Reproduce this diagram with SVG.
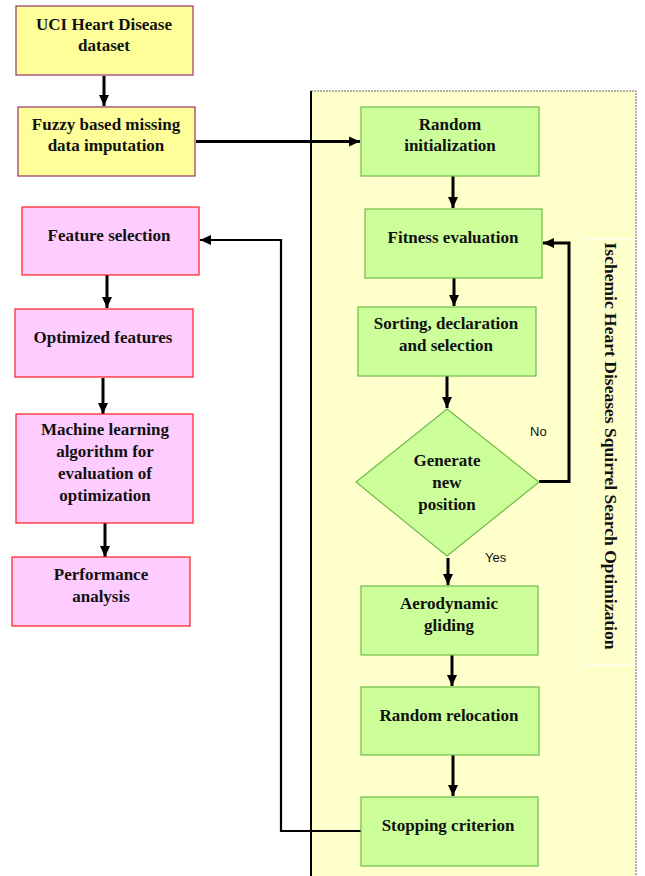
<svg xmlns="http://www.w3.org/2000/svg" width="645" height="876" viewBox="0 0 645 876">
<defs>
<marker id="ah" markerUnits="userSpaceOnUse" markerWidth="12" markerHeight="12" viewBox="0 0 12 12" refX="11" refY="6" orient="auto">
<path d="M0,1 L11,6 L0,11 Z" fill="#000"/>
</marker>
<style>
.t{font-family:"Liberation Serif","Times New Roman",serif;font-weight:bold;font-size:17px;fill:#111;text-anchor:middle}
.s{font-family:"Liberation Sans",Arial,sans-serif;font-size:13px;fill:#111}
.y{fill:#FFFF99;stroke:#993366;stroke-width:1.2}
.g{fill:#CCFF99;stroke:#6DBB4A;stroke-width:1.2}
.p{fill:#FFCCFF;stroke:#FF1A1A;stroke-width:1.2}
.c{fill:none;stroke:#000;stroke-width:3}
.f{fill:none;stroke:#000;stroke-width:2.2}
</style>
</defs>
<rect width="645" height="876" fill="#fff"/>
<g id="container">
<rect x="311" y="91" width="325" height="790" fill="#FFFFCC"/>
<path d="M311,91 H636 V876" fill="none" stroke="#666" stroke-width="1" stroke-dasharray="2,1"/>
<line x1="311" y1="91" x2="311" y2="876" stroke="#000" stroke-width="2"/>
<rect x="587" y="239" width="46" height="426" fill="none" stroke="#fff" stroke-width="1"/>
<text class="t" transform="translate(605,446) rotate(90)" textLength="407" lengthAdjust="spacingAndGlyphs">Ischemic Heart Diseases Squirrel Search Optimization</text>
</g>
<g id="connectors">
<line class="c" x1="104" y1="76" x2="104" y2="106" marker-end="url(#ah)"/>
<line class="c" x1="196" y1="141.5" x2="360" y2="141.5" marker-end="url(#ah)"/>
<line class="c" x1="453" y1="176" x2="453" y2="208" marker-end="url(#ah)"/>
<line class="c" x1="454" y1="278" x2="454" y2="306" marker-end="url(#ah)"/>
<line class="c" x1="447" y1="376" x2="447" y2="408" marker-end="url(#ah)"/>
<path class="c" d="M539,481.5 H569 V243 H543" marker-end="url(#ah)"/>
<line class="c" x1="448" y1="558" x2="448" y2="585" marker-end="url(#ah)"/>
<line class="c" x1="452" y1="655" x2="452" y2="686" marker-end="url(#ah)"/>
<line class="c" x1="453" y1="755" x2="453" y2="796" marker-end="url(#ah)"/>
<path class="f" d="M366,831 H281 V240 H200" marker-end="url(#ah)"/>
<line class="c" x1="107" y1="275" x2="107" y2="308" marker-end="url(#ah)"/>
<line class="c" x1="103" y1="378" x2="103" y2="414" marker-end="url(#ah)"/>
<line class="c" x1="105" y1="523" x2="105" y2="557" marker-end="url(#ah)"/>
<text class="s" x="530" y="436">No</text>
<text class="s" x="485" y="562">Yes</text>
</g>
<g id="uci">
<rect class="y" x="16" y="6" width="177" height="69"/>
<text class="t" x="104" y="30">UCI Heart Disease</text>
<text class="t" x="104" y="51">dataset</text>
</g>
<g id="fuzzy">
<rect class="y" x="18" y="107" width="177" height="69"/>
<text class="t" x="106" y="130">Fuzzy based missing</text>
<text class="t" x="106" y="151">data imputation</text>
</g>
<g id="random-init">
<rect class="g" x="361" y="107" width="178" height="69"/>
<text class="t" x="450" y="130">Random</text>
<text class="t" x="450" y="151">initialization</text>
</g>
<g id="fitness">
<rect class="g" x="365" y="209" width="177" height="69"/>
<text class="t" x="453" y="243">Fitness evaluation</text>
</g>
<g id="sorting">
<rect class="g" x="358" y="307" width="178" height="69"/>
<text class="t" x="446" y="329">Sorting, declaration</text>
<text class="t" x="446" y="351">and selection</text>
</g>
<g id="generate">
<path class="g" d="M447,409 L539,482 L447,556 L356,482 Z"/>
<text class="t" x="447" y="466">Generate</text>
<text class="t" x="447" y="488">new</text>
<text class="t" x="447" y="510">position</text>
</g>
<g id="aerodynamic">
<rect class="g" x="361" y="586" width="177" height="69"/>
<text class="t" x="449" y="609">Aerodynamic</text>
<text class="t" x="449" y="631">gliding</text>
</g>
<g id="relocation">
<rect class="g" x="361" y="687" width="178" height="68"/>
<text class="t" x="449" y="721">Random relocation</text>
</g>
<g id="stopping">
<rect class="g" x="361" y="797" width="177" height="69"/>
<text class="t" x="448" y="831">Stopping criterion</text>
</g>
<g id="feature-selection">
<rect class="p" x="22" y="207" width="177" height="68"/>
<text class="t" x="109" y="241">Feature selection</text>
</g>
<g id="optimized">
<rect class="p" x="15" y="309" width="178" height="68"/>
<text class="t" x="103" y="343">Optimized features</text>
</g>
<g id="ml">
<rect class="p" x="16" y="414" width="177" height="109"/>
<text class="t" x="105" y="435">Machine learning</text>
<text class="t" x="105" y="457">algorithm for</text>
<text class="t" x="105" y="479">evaluation of</text>
<text class="t" x="105" y="501">optimization</text>
</g>
<g id="performance">
<rect class="p" x="12" y="557" width="178" height="69"/>
<text class="t" x="101" y="580">Performance</text>
<text class="t" x="101" y="602">analysis</text>
</g>
</svg>
